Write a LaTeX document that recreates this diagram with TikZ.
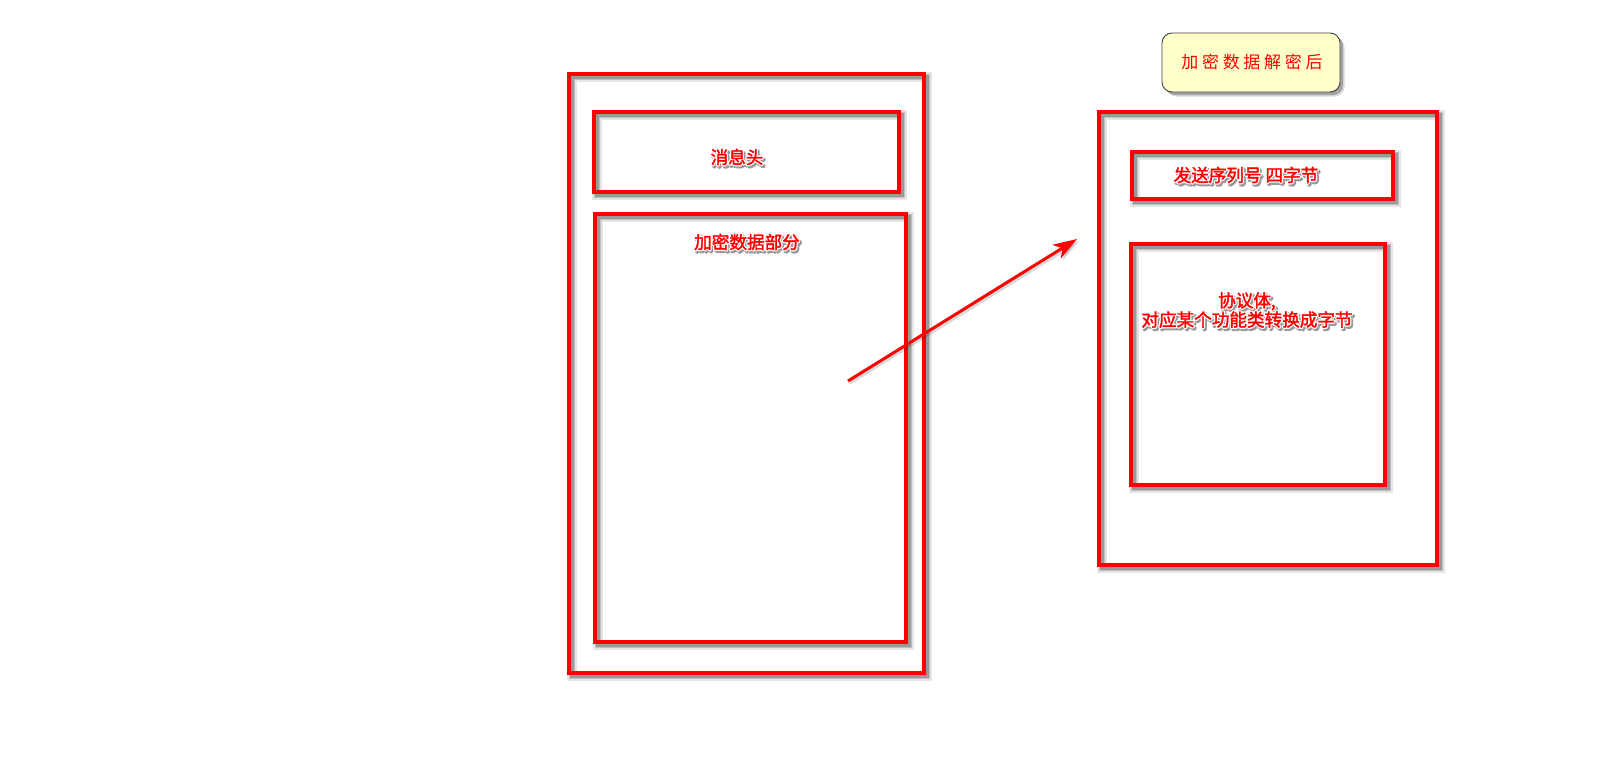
\documentclass[tikz,border=0pt]{standalone}
\usepackage{fontspec}
\newfontfamily\cjk{Noto Sans CJK SC}
\newfontfamily\cjkwide[LetterSpace=22]{Noto Sans CJK SC}
\usetikzlibrary{arrows.meta}

% text rendering modes: stroked outline / filled and stroked / plain fill
\newcommand\trstroke[1]{\special{pdf:literal direct 1 Tr #1 w 1 j}}
\newcommand\trbold[1]{\special{pdf:literal direct 2 Tr #1 w 1 j}}
\newcommand\trplain{\special{pdf:literal direct 0 Tr 0.4 w}}

% red label with a white halo and a soft grey drop shadow
\newcommand\glowtxt[1]{{%
  \rlap{\kern1.6pt\raisebox{-2pt}{\color{black!40}\trbold{3.2}#1\trplain}}%
  \rlap{\color{white}\trstroke{3}#1\trplain}%
  {\color{red}\trbold{0.35}#1\trplain}}}

\tikzset{
  redbox/.style={draw=red, line width=4pt, inner sep=0pt, rectangle,
    preaction={draw=black, opacity=0.10, line width=10pt,
      transform canvas={shift={(3pt,-3pt)}}},
    preaction={draw=black, opacity=0.16, line width=6.5pt,
      transform canvas={shift={(2.8pt,-2.8pt)}}},
    preaction={draw=black, opacity=0.2, line width=4pt,
      transform canvas={shift={(2.5pt,-2.5pt)}}}},
  label/.style={font=\cjk\fontsize{17.6pt}{19.5pt}\selectfont, inner sep=0pt, align=center},
  notebox/.style={draw=black!75, line width=0.9pt, fill={rgb,255:red,255;green,255;blue,204},
    rounded corners=10pt, inner sep=0pt,
    preaction={fill=black, opacity=0.15, transform canvas={shift={(4.5pt,-4.5pt)}}},
    preaction={fill=black, opacity=0.25, transform canvas={shift={(3pt,-3pt)}}}},
  redarrow/.style={draw=red, line width=3pt,
    -{Stealth[length=24pt, width=16pt, inset=7pt]}}
}

\begin{document}
\begin{tikzpicture}[x=1pt, y=-1pt]
  \useasboundingbox (0,0) rectangle (1623,772);

  % message frame
  \node[redbox, minimum width=355pt, minimum height=599pt] (frame) at (746.5,373.5) {};
  \node[redbox, minimum width=305pt, minimum height=80pt] (header) at (746.5,152) {};
  \node[redbox, minimum width=311pt, minimum height=428pt] (payload) at (750.5,428) {};
  \node[label] (headertxt) at (737,158) {\glowtxt{消息头}};
  \node[label] (payloadtxt) at (747,243) {\glowtxt{加密数据部分}};

  % decrypted contents
  \node[redbox, minimum width=338pt, minimum height=453pt] (plain) at (1268,338.5) {};
  \node[redbox, minimum width=261pt, minimum height=47pt] (seq) at (1262.5,175.5) {};
  \node[redbox, minimum width=254pt, minimum height=241pt] (body) at (1258,364.5) {};
  \node[label] (seqtxt) at (1246,176) {\glowtxt{发送序列号 四字节}};
  \node[label] (bodytxt) at (1247,311) {\glowtxt{协议体,}\\[-2pt]\glowtxt{对应某个功能类转换成字节}};

  % caption note
  \node[notebox, minimum width=178pt, minimum height=59pt] (note) at (1251,62.5) {};
  \node[font=\cjkwide\fontsize{17pt}{19pt}\selectfont, text=red, inner sep=0pt] (notetxt) at (1252,62) {加密数据解密后};

  % arrow from the encrypted part to its decrypted form
  \coordinate (from) at (848,381);
  \coordinate (to) at (1077,239);
  \draw[redarrow, draw=black, opacity=0.15, transform canvas={shift={(2pt,-2pt)}}] (from) -- (to);
  \draw[redarrow] (from) -- (to);
\end{tikzpicture}
\end{document}
